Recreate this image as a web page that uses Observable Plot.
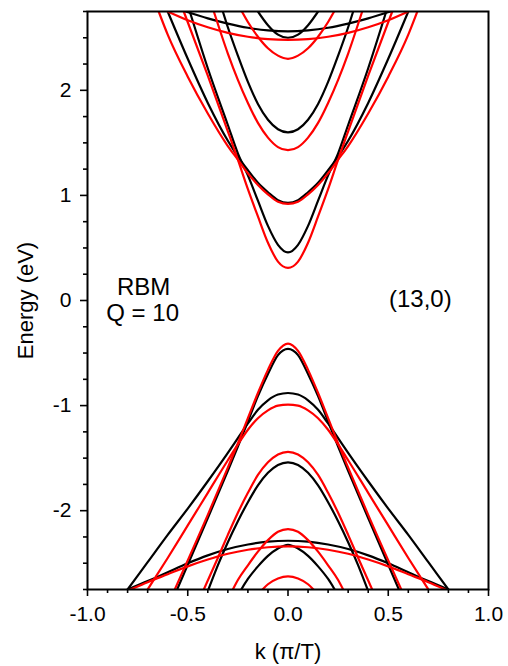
<!DOCTYPE html>
<html><head><meta charset="utf-8">
<script src="https://cdn.jsdelivr.net/npm/d3@7"></script>
<script src="https://cdn.jsdelivr.net/npm/@observablehq/plot@0.6"></script>
<style>html,body{margin:0;padding:0;background:#fff}svg{display:block}</style>
</head><body><div id="chart"></div>
<script>
// Half-curves (k >= 0): [k (pi/T), Energy (eV)]; bands are symmetric in k.
// Conduction bands
const blackC1 = [[0,0.457],[0.05,0.53],[0.1,0.71],[0.15,0.95],[0.2,1.19],[0.25,1.40],[0.3,1.67],[0.4,2.21],[0.49,2.75]];
const redC1   = [[0,0.31],[0.05,0.37],[0.1,0.55],[0.15,0.80],[0.2,1.06],[0.25,1.34],[0.3,1.61],[0.4,2.14],[0.52,2.75]];
const blackC2 = [[0,0.93],[0.05,0.955],[0.1,1.03],[0.15,1.12],[0.2,1.24],[0.25,1.37],[0.3,1.52],[0.4,1.88],[0.5,2.30],[0.6,2.75]];
const redC2   = [[0,0.92],[0.05,0.94],[0.1,1.01],[0.15,1.10],[0.2,1.21],[0.25,1.34],[0.3,1.47],[0.4,1.78],[0.5,2.13],[0.6,2.53],[0.645,2.75]];
const blackC3 = [[0,1.60],[0.05,1.63],[0.1,1.72],[0.15,1.87],[0.2,2.08],[0.25,2.33],[0.3,2.60],[0.325,2.75]];
const redC3   = [[0,1.43],[0.05,1.46],[0.1,1.55],[0.15,1.69],[0.2,1.88],[0.25,2.10],[0.3,2.35],[0.37,2.75]];
const blackC4 = [[0,2.50],[0.05,2.53],[0.1,2.62],[0.15,2.75]];
const redC4   = [[0,2.30],[0.05,2.33],[0.1,2.40],[0.15,2.51],[0.2,2.65],[0.23,2.75]];
const blackC5 = [[0,2.56],[0.1,2.57],[0.2,2.595],[0.3,2.635],[0.4,2.685],[0.51,2.75]];
const redC5   = [[0,2.48],[0.1,2.487],[0.2,2.51],[0.3,2.547],[0.4,2.60],[0.5,2.667],[0.6,2.75]];
// Valence bands
const blackV1 = [[0,-0.46],[0.05,-0.52],[0.1,-0.70],[0.15,-0.91],[0.2,-1.15],[0.25,-1.39],[0.3,-1.62],[0.4,-2.07],[0.553,-2.75]];
const redV1   = [[0,-0.41],[0.05,-0.48],[0.1,-0.66],[0.15,-0.88],[0.2,-1.12],[0.25,-1.36],[0.3,-1.59],[0.4,-2.04],[0.565,-2.75]];
const blackV2 = [[0,-0.88],[0.05,-0.895],[0.1,-0.95],[0.15,-1.04],[0.2,-1.17],[0.25,-1.31],[0.3,-1.45],[0.4,-1.72],[0.5,-1.98],[0.6,-2.23],[0.7,-2.49],[0.8,-2.75]];
const redV2   = [[0,-0.99],[0.05,-1.0],[0.1,-1.045],[0.15,-1.12],[0.2,-1.23],[0.25,-1.37],[0.3,-1.52],[0.4,-1.83],[0.5,-2.14],[0.6,-2.45],[0.7,-2.75]];
const blackV3 = [[0,-1.54],[0.05,-1.565],[0.1,-1.64],[0.15,-1.76],[0.2,-1.92],[0.25,-2.10],[0.3,-2.30],[0.35,-2.52],[0.397,-2.75]];
const redV3   = [[0,-1.44],[0.05,-1.465],[0.1,-1.54],[0.15,-1.66],[0.2,-1.83],[0.25,-2.02],[0.3,-2.23],[0.35,-2.45],[0.42,-2.75]];
const blackV4 = [[0,-2.286],[0.1,-2.295],[0.2,-2.322],[0.3,-2.365],[0.4,-2.425],[0.5,-2.50],[0.6,-2.585],[0.7,-2.67],[0.8,-2.75]];
const redV4   = [[0,-2.34],[0.1,-2.348],[0.2,-2.372],[0.3,-2.41],[0.4,-2.465],[0.5,-2.53],[0.6,-2.605],[0.7,-2.68],[0.785,-2.75]];
const blackV5 = [[0,-2.324],[0.05,-2.36],[0.1,-2.43],[0.15,-2.53],[0.2,-2.65],[0.233,-2.75]];
const redV5   = [[0,-2.175],[0.05,-2.20],[0.1,-2.28],[0.15,-2.39],[0.2,-2.52],[0.25,-2.66],[0.275,-2.75]];
const redV6   = [[0,-2.625],[0.05,-2.645],[0.1,-2.70],[0.127,-2.75]];

const xMajorTicks = [-1, -0.5, 0, 0.5, 1];
const xMinorTicks = [-0.9,-0.8,-0.7,-0.6,-0.4,-0.3,-0.2,-0.1,0.1,0.2,0.3,0.4,0.6,0.7,0.8,0.9];
const yMajorTicks = [-2, -1, 0, 1, 2];
const yMinorTicks = [-2.75,-2.5,-2.25,-1.75,-1.5,-1.25,-0.75,-0.5,-0.25,0.25,0.5,0.75,1.25,1.5,1.75,2.25,2.5,2.75];
const annotations = [
  {k: -0.72, E: 0.13, label: "RBM"},
  {k: -0.725, E: -0.125, label: "Q = 10"},
  {k: 0.66, E: 0.01, label: "(13,0)"}
];
const xLabel = "k (\u03c0/T)";
const yLabel = "Energy (eV)";

const blackCurves = [blackC1, blackC2, blackC3, blackC4, blackC5, blackV1, blackV2, blackV3, blackV4, blackV5];
const redCurves = [redC1, redC2, redC3, redC4, redC5, redV1, redV2, redV3, redV4, redV5, redV6];

function toRows(curves) {
  const rows = [];
  curves.forEach((half, i) => {
    const left = half.slice(1).reverse().map(([k, E]) => ({k: -k, E, id: i}));
    const right = half.map(([k, E]) => ({k, E, id: i}));
    rows.push(...left, ...right);
  });
  return rows;
}
const blackRows = toRows(blackCurves);
const redRows = toRows(redCurves);

const font = "'Liberation Sans', Arial, Helvetica, sans-serif";

const chart = Plot.plot({
  width: 508,
  height: 666,
  marginLeft: 87,
  marginRight: 20,
  marginTop: 11,
  marginBottom: 77,
  x: {domain: [-1, 1]},
  y: {domain: [-2.75, 2.75]},
  style: {fontFamily: font, fontSize: "21px", color: "black", background: "white", overflow: "visible"},
  marks: [
    Plot.line(blackRows, {x: "k", y: "E", z: "id", stroke: "black", strokeWidth: 2.2, curve: "monotone-x", clip: true}),
    Plot.line(redRows, {x: "k", y: "E", z: "id", stroke: "#ff0000", strokeWidth: 2.2, curve: "monotone-x", clip: true}),
    Plot.frame({stroke: "black", strokeWidth: 2}),
    Plot.axisX(xMajorTicks, {anchor: "bottom", tickSize: 7, tickPadding: 10, strokeWidth: 1.6, tickFormat: d => d.toFixed(1), fontSize: 21, label: null}),
    Plot.axisX(xMinorTicks, {anchor: "bottom", tickSize: 4, strokeWidth: 1.6, tickFormat: () => "", label: null}),
    Plot.axisY(yMajorTicks, {anchor: "left", tickSize: 7, tickPadding: 9, strokeWidth: 1.6, tickFormat: d => String(d), fontSize: 21, label: null}),
    Plot.axisY(yMinorTicks, {anchor: "left", tickSize: 4, strokeWidth: 1.6, tickFormat: () => "", label: null}),
    Plot.text([xLabel], {frameAnchor: "bottom", dy: 62, fontSize: 22, textAnchor: "middle", lineAnchor: "middle", fill: "black"}),
    Plot.text([yLabel], {frameAnchor: "left", dx: -62, rotate: -90, fontSize: 22, textAnchor: "middle", lineAnchor: "middle", fill: "black"}),
    Plot.text(annotations, {x: "k", y: "E", text: "label", fontSize: 24, textAnchor: "middle", lineAnchor: "middle", fill: "black"})
  ]
});
document.getElementById("chart").appendChild(chart);
</script>
</body></html>
